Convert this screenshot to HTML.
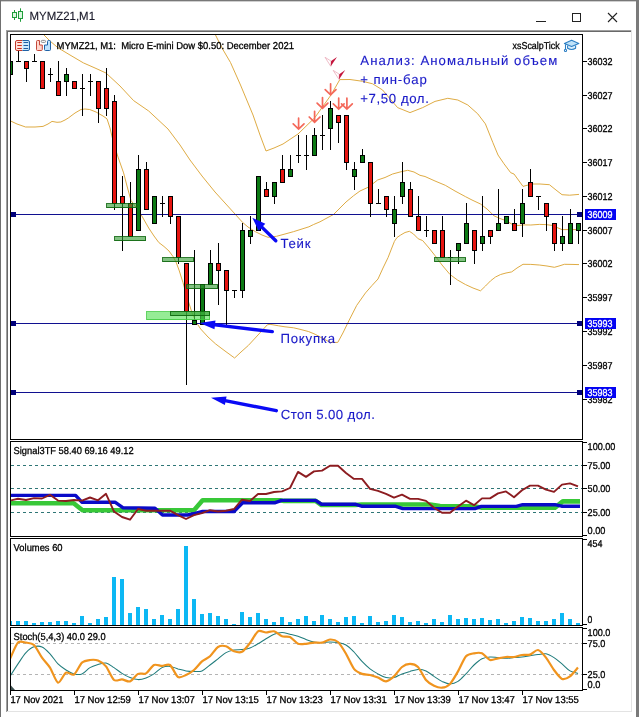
<!DOCTYPE html>
<html lang="ru"><head><meta charset="utf-8"><title>MYMZ21,M1</title>
<style>html,body{margin:0;padding:0;background:#fff;overflow:hidden}body{width:639px;height:717px}svg text{white-space:pre}</style></head>
<body>
<svg width="639" height="717" viewBox="0 0 639 717" font-family='"Liberation Sans", sans-serif' style="display:block">
<defs><clipPath id="cm"><rect x="11" y="35" width="571" height="404"/></clipPath><clipPath id="c1"><rect x="11" y="442" width="571" height="94"/></clipPath><clipPath id="c2"><rect x="11" y="539" width="571" height="86"/></clipPath><clipPath id="c3"><rect x="11" y="628" width="571" height="62"/></clipPath></defs>
<rect x="0" y="0" width="639" height="717" fill="#fff" />
<g shape-rendering="crispEdges">
<rect x="0" y="0" width="639" height="1" fill="#787878" />
<rect x="0" y="1" width="639" height="1" fill="#cfcfcf" />
<rect x="0" y="0" width="1" height="717" fill="#707070" />
<rect x="636" y="0" width="3" height="717" fill="#7a7a7a" />
<rect x="6" y="30" width="626" height="1" fill="#a0a0a0" />
<rect x="7" y="31" width="625" height="1" fill="#696969" />
<rect x="6" y="30" width="1" height="682" fill="#a0a0a0" />
<rect x="7" y="31" width="1" height="681" fill="#696969" />
<rect x="631" y="30" width="1" height="682" fill="#e3e3e3" />
<rect x="7" y="711" width="625" height="1" fill="#e3e3e3" />
</g>
<g fill="#dcf8e0" stroke="#1f9e3a" stroke-width="1"><path d="M14.5,10v10M20.5,8.3v13.5" fill="none"/><rect x="12.5" y="12.5" width="4" height="5"/><rect x="18.5" y="11.5" width="4" height="7"/></g>
<text x="29.5" y="20" font-size="12" fill="#1a1a2a" textLength="65.5" lengthAdjust="spacingAndGlyphs" stroke="#1a1a2a" stroke-width="0.15" text-rendering="geometricPrecision" >MYMZ21,M1</text>
<g stroke="#222" stroke-width="1" fill="none" shape-rendering="crispEdges"><path d="M536,21.5h10"/><rect x="572.5" y="13.5" width="8" height="8"/></g>
<path d="M608,13l9,9M617,13l-9,9" stroke="#222" stroke-width="1.1" fill="none"/>
<g shape-rendering="crispEdges" fill="#000">
<rect x="10" y="34" width="573" height="1" fill="#000" />
<rect x="10" y="34" width="1" height="657" fill="#000" />
<rect x="582" y="34" width="1" height="657" fill="#000" />
<rect x="10" y="439" width="573" height="1" fill="#000" />
<rect x="10" y="441" width="573" height="1" fill="#000" />
<rect x="10" y="536" width="573" height="1" fill="#000" />
<rect x="10" y="538" width="573" height="1" fill="#000" />
<rect x="10" y="625" width="573" height="1" fill="#000" />
<rect x="10" y="627" width="573" height="1" fill="#000" />
<rect x="10" y="690" width="573" height="1" fill="#000" />
<rect x="583" y="442" width="4" height="1" fill="#000" />
<rect x="583" y="535" width="4" height="1" fill="#000" />
<rect x="583" y="539" width="4" height="1" fill="#000" />
<rect x="583" y="624" width="4" height="1" fill="#000" />
<rect x="583" y="628" width="4" height="1" fill="#000" />
<rect x="583" y="689" width="4" height="1" fill="#000" />
<rect x="10" y="440" width="578" height="1" fill="#fff" />
<rect x="10" y="537" width="578" height="1" fill="#fff" />
<rect x="10" y="626" width="578" height="1" fill="#fff" />
</g>
<g clip-path="url(#cm)">
<polyline points="215,34 222,48 230.5,62.5 240.5,85 253,115 260,135 266,151 274,148 283,144 298,134 314.7,117.8 331,95 339.8,79.6 350,79.5 362.6,81.3 372.6,83.8 382.6,90 390,98.8 397.6,107.6 410,112.6 422.7,107.6 435,101.4 447.8,98.3 457.8,100 467.8,105 477.8,113.9 485.4,123.9 492.9,142.7 498,155 504,163.8 510.7,172.7 514,174 523,186.4 531.8,184 540,184 549.4,184.7 556,190 562,194.7 569.5,195.2 579,194.4" fill="none" stroke="#dca73a" stroke-width="0.95" stroke-linejoin="round"/>
<polyline points="43,34 50,41 58,47.8 70,55 83.4,62.9 95,68 106,73 120,86 133.6,100.6 148.7,111 168,129 180,145 190,160 202,176 215,192 225,203 235,214 242.7,222.5 248,227 255.4,231.7 262,235 268,237.3 276.5,236.3 285,234 293.4,231.7 301,229.3 308.9,226.8 313.4,224.6 320,221.8 326,218.5 333.5,214.5 340,208 346,202 353.6,195.7 360,191 368.7,187 377.6,180 385,177.5 392.6,174 400,172 407.7,170.3 414,172 420,175.3 425,176.5 435,181 445.3,185.3 455,191 465.4,196.6 472,200 480.5,204 487,209 494,215.8 500,218.5 505.6,220.5 511.7,224 518,225.5 524,224.9 530.8,225 539.3,224.4 546,224.6 551.9,225.4 557,227.5 562,229.6 570,229.6 579,229.6" fill="none" stroke="#dca73a" stroke-width="0.95" stroke-linejoin="round"/>
<polyline points="10,120.7 17,124 25.6,127 35,127 43,126.4 48,124 52,121.4 57,122.3 60.8,122 65,120 68.3,118 75,113 81,109.5 85,109 89.7,109.5 96,112 103,116 107,118.8 110,128 113.5,142.7 118,157 123.6,172.9 127,186 131,200.5 135,206 138.7,210.6 143,218 148.7,228 154,236 158.8,242.5 164,246.5 169,251 173,256.5 176,262 179,270 183,282.6 187,297 192,312.8 196,322 200.7,329 208,337 215.7,344 225,351 234.6,358 241,352 248.4,345.4 258,335 267.3,324.8 270,324.3 278.6,325.8 285,326.8 293.6,327.8 300,329.3 308.7,331.6 315.2,334.3 322,338 330.3,342.4 337.8,342.4 342.9,333 349,320.5 356.7,305.4 365.5,292.9 372,285.5 378,279 383,268 388,257.7 391,250 394.4,241.4 397,237.5 400.7,235 405,232.5 409.4,231.3 413.5,234 418.2,238.8 422.7,240.6 429,248 435,255.6 442,265 450,274.5 457.5,280 465.4,284.5 473,288 480.5,290.8 485.5,286 490.6,280.8 495.5,277 500.6,274.5 506,273 511.7,271.9 517,268 523,264.3 530.8,264.4 539.3,265 547,266 554.4,267.3 559,266 564.4,264.3 571,264.4 579,264.6" fill="none" stroke="#dca73a" stroke-width="0.95" stroke-linejoin="round"/>
<g shape-rendering="crispEdges">
<rect x="11" y="214" width="571" height="1" fill="#101090" />
<rect x="11" y="212" width="5" height="5" fill="#00007a" />
<rect x="577" y="212" width="5" height="5" fill="#00007a" />
<rect x="11" y="323" width="571" height="1" fill="#101090" />
<rect x="11" y="321" width="5" height="5" fill="#00007a" />
<rect x="577" y="321" width="5" height="5" fill="#00007a" />
<rect x="11" y="392" width="571" height="1" fill="#101090" />
<rect x="11" y="390" width="5" height="5" fill="#00007a" />
<rect x="577" y="390" width="5" height="5" fill="#00007a" />
<rect x="10" y="61" width="1" height="14" fill="#000" />
<rect x="8" y="61" width="5" height="14" fill="#000" />
<rect x="9" y="62" width="3" height="12" fill="#0c7a14" />
<rect x="18" y="51" width="1" height="11" fill="#000" />
<rect x="16" y="61" width="5" height="1" fill="#000" />
<rect x="26" y="61" width="1" height="21" fill="#000" />
<rect x="24" y="61" width="5" height="8" fill="#000" />
<rect x="25" y="62" width="3" height="6" fill="#e61410" />
<rect x="34" y="54" width="1" height="8" fill="#000" />
<rect x="32" y="61" width="5" height="1" fill="#000" />
<rect x="42" y="61" width="1" height="28" fill="#000" />
<rect x="40" y="61" width="5" height="28" fill="#000" />
<rect x="41" y="62" width="3" height="26" fill="#e61410" />
<rect x="50" y="68" width="1" height="14" fill="#000" />
<rect x="48" y="74" width="5" height="1" fill="#000" />
<rect x="58" y="61" width="1" height="35" fill="#000" />
<rect x="56" y="81" width="5" height="15" fill="#000" />
<rect x="57" y="82" width="3" height="13" fill="#e61410" />
<rect x="66" y="68" width="1" height="28" fill="#000" />
<rect x="64" y="74" width="5" height="8" fill="#000" />
<rect x="65" y="75" width="3" height="6" fill="#0c7a14" />
<rect x="74" y="81" width="1" height="8" fill="#000" />
<rect x="72" y="81" width="5" height="8" fill="#000" />
<rect x="73" y="82" width="3" height="6" fill="#e61410" />
<rect x="82" y="74" width="1" height="42" fill="#000" />
<rect x="80" y="88" width="5" height="1" fill="#000" />
<rect x="90" y="74" width="1" height="22" fill="#000" />
<rect x="88" y="81" width="5" height="1" fill="#000" />
<rect x="98" y="81" width="1" height="42" fill="#000" />
<rect x="96" y="81" width="5" height="28" fill="#000" />
<rect x="97" y="82" width="3" height="26" fill="#e61410" />
<rect x="106" y="68" width="1" height="48" fill="#000" />
<rect x="104" y="88" width="5" height="21" fill="#000" />
<rect x="105" y="89" width="3" height="19" fill="#e61410" />
<rect x="114" y="95" width="1" height="115" fill="#000" />
<rect x="112" y="101" width="5" height="103" fill="#000" />
<rect x="113" y="102" width="3" height="101" fill="#e61410" />
<rect x="122" y="176" width="1" height="75" fill="#000" />
<rect x="120" y="196" width="5" height="8" fill="#000" />
<rect x="121" y="197" width="3" height="6" fill="#e61410" />
<rect x="130" y="182" width="1" height="55" fill="#000" />
<rect x="128" y="203" width="5" height="34" fill="#000" />
<rect x="129" y="204" width="3" height="32" fill="#e61410" />
<rect x="138" y="155" width="1" height="76" fill="#000" />
<rect x="136" y="169" width="5" height="62" fill="#000" />
<rect x="137" y="170" width="3" height="60" fill="#0c7a14" />
<rect x="146" y="162" width="1" height="48" fill="#000" />
<rect x="144" y="169" width="5" height="41" fill="#000" />
<rect x="145" y="170" width="3" height="39" fill="#e61410" />
<rect x="154" y="196" width="1" height="28" fill="#000" />
<rect x="152" y="196" width="5" height="28" fill="#000" />
<rect x="153" y="197" width="3" height="26" fill="#0c7a14" />
<rect x="162" y="196" width="1" height="21" fill="#000" />
<rect x="160" y="203" width="5" height="1" fill="#000" />
<rect x="170" y="196" width="1" height="28" fill="#000" />
<rect x="168" y="196" width="5" height="21" fill="#000" />
<rect x="169" y="197" width="3" height="19" fill="#e61410" />
<rect x="178" y="216" width="1" height="48" fill="#000" />
<rect x="176" y="216" width="5" height="42" fill="#000" />
<rect x="177" y="217" width="3" height="40" fill="#e61410" />
<rect x="186" y="263" width="1" height="122" fill="#000" />
<rect x="184" y="263" width="5" height="49" fill="#000" />
<rect x="185" y="264" width="3" height="47" fill="#e61410" />
<rect x="194" y="250" width="1" height="75" fill="#000" />
<rect x="192" y="320" width="5" height="5" fill="#000" />
<rect x="193" y="321" width="3" height="3" fill="#0c7a14" />
<rect x="202" y="284" width="1" height="41" fill="#000" />
<rect x="200" y="284" width="5" height="41" fill="#000" />
<rect x="201" y="285" width="3" height="39" fill="#0c7a14" />
<rect x="210" y="250" width="1" height="35" fill="#000" />
<rect x="208" y="263" width="5" height="22" fill="#000" />
<rect x="209" y="264" width="3" height="20" fill="#0c7a14" />
<rect x="218" y="243" width="1" height="62" fill="#000" />
<rect x="216" y="263" width="5" height="8" fill="#000" />
<rect x="217" y="264" width="3" height="6" fill="#e61410" />
<rect x="226" y="270" width="1" height="55" fill="#000" />
<rect x="224" y="270" width="5" height="21" fill="#000" />
<rect x="225" y="271" width="3" height="19" fill="#e61410" />
<rect x="234" y="290" width="1" height="8" fill="#000" />
<rect x="232" y="290" width="5" height="1" fill="#000" />
<rect x="242" y="223" width="1" height="75" fill="#000" />
<rect x="240" y="230" width="5" height="61" fill="#000" />
<rect x="241" y="231" width="3" height="59" fill="#0c7a14" />
<rect x="250" y="216" width="1" height="28" fill="#000" />
<rect x="248" y="230" width="5" height="7" fill="#000" />
<rect x="249" y="231" width="3" height="5" fill="#0c7a14" />
<rect x="258" y="176" width="1" height="55" fill="#000" />
<rect x="256" y="176" width="5" height="55" fill="#000" />
<rect x="257" y="177" width="3" height="53" fill="#0c7a14" />
<rect x="266" y="182" width="1" height="15" fill="#000" />
<rect x="264" y="189" width="5" height="8" fill="#000" />
<rect x="265" y="190" width="3" height="6" fill="#e61410" />
<rect x="274" y="182" width="1" height="22" fill="#000" />
<rect x="272" y="182" width="5" height="15" fill="#000" />
<rect x="273" y="183" width="3" height="13" fill="#0c7a14" />
<rect x="282" y="155" width="1" height="28" fill="#000" />
<rect x="280" y="169" width="5" height="14" fill="#000" />
<rect x="281" y="170" width="3" height="12" fill="#e61410" />
<rect x="290" y="155" width="1" height="22" fill="#000" />
<rect x="288" y="169" width="5" height="8" fill="#000" />
<rect x="289" y="170" width="3" height="6" fill="#0c7a14" />
<rect x="298" y="135" width="1" height="28" fill="#000" />
<rect x="296" y="155" width="5" height="1" fill="#000" />
<rect x="306" y="135" width="1" height="35" fill="#000" />
<rect x="304" y="155" width="5" height="1" fill="#000" />
<rect x="314" y="128" width="1" height="28" fill="#000" />
<rect x="312" y="135" width="5" height="21" fill="#000" />
<rect x="313" y="136" width="3" height="19" fill="#0c7a14" />
<rect x="322" y="115" width="1" height="35" fill="#000" />
<rect x="320" y="135" width="5" height="1" fill="#000" />
<rect x="330" y="101" width="1" height="49" fill="#000" />
<rect x="328" y="108" width="5" height="21" fill="#000" />
<rect x="329" y="109" width="3" height="19" fill="#0c7a14" />
<rect x="338" y="115" width="1" height="28" fill="#000" />
<rect x="336" y="115" width="5" height="8" fill="#000" />
<rect x="337" y="116" width="3" height="6" fill="#e61410" />
<rect x="346" y="115" width="1" height="55" fill="#000" />
<rect x="344" y="115" width="5" height="48" fill="#000" />
<rect x="345" y="116" width="3" height="46" fill="#e61410" />
<rect x="354" y="162" width="1" height="28" fill="#000" />
<rect x="352" y="169" width="5" height="8" fill="#000" />
<rect x="353" y="170" width="3" height="6" fill="#0c7a14" />
<rect x="362" y="149" width="1" height="14" fill="#000" />
<rect x="360" y="155" width="5" height="8" fill="#000" />
<rect x="361" y="156" width="3" height="6" fill="#0c7a14" />
<rect x="370" y="162" width="1" height="55" fill="#000" />
<rect x="368" y="162" width="5" height="42" fill="#000" />
<rect x="369" y="163" width="3" height="40" fill="#e61410" />
<rect x="378" y="189" width="1" height="15" fill="#000" />
<rect x="376" y="203" width="5" height="1" fill="#000" />
<rect x="386" y="196" width="1" height="21" fill="#000" />
<rect x="384" y="196" width="5" height="14" fill="#000" />
<rect x="385" y="197" width="3" height="12" fill="#e61410" />
<rect x="394" y="196" width="1" height="41" fill="#000" />
<rect x="392" y="209" width="5" height="15" fill="#000" />
<rect x="393" y="210" width="3" height="13" fill="#0c7a14" />
<rect x="402" y="162" width="1" height="42" fill="#000" />
<rect x="400" y="182" width="5" height="15" fill="#000" />
<rect x="401" y="183" width="3" height="13" fill="#0c7a14" />
<rect x="410" y="182" width="1" height="35" fill="#000" />
<rect x="408" y="189" width="5" height="28" fill="#000" />
<rect x="409" y="190" width="3" height="26" fill="#e61410" />
<rect x="418" y="196" width="1" height="35" fill="#000" />
<rect x="416" y="216" width="5" height="15" fill="#000" />
<rect x="417" y="217" width="3" height="13" fill="#e61410" />
<rect x="426" y="216" width="1" height="21" fill="#000" />
<rect x="424" y="230" width="5" height="1" fill="#000" />
<rect x="434" y="230" width="1" height="14" fill="#000" />
<rect x="432" y="230" width="5" height="14" fill="#000" />
<rect x="433" y="231" width="3" height="12" fill="#e61410" />
<rect x="442" y="216" width="1" height="42" fill="#000" />
<rect x="440" y="230" width="5" height="28" fill="#000" />
<rect x="441" y="231" width="3" height="26" fill="#e61410" />
<rect x="450" y="250" width="1" height="35" fill="#000" />
<rect x="448" y="257" width="5" height="1" fill="#000" />
<rect x="458" y="243" width="1" height="21" fill="#000" />
<rect x="456" y="243" width="5" height="8" fill="#000" />
<rect x="457" y="244" width="3" height="6" fill="#0c7a14" />
<rect x="466" y="203" width="1" height="41" fill="#000" />
<rect x="464" y="223" width="5" height="21" fill="#000" />
<rect x="465" y="224" width="3" height="19" fill="#0c7a14" />
<rect x="474" y="230" width="1" height="34" fill="#000" />
<rect x="472" y="230" width="5" height="21" fill="#000" />
<rect x="473" y="231" width="3" height="19" fill="#e61410" />
<rect x="482" y="196" width="1" height="55" fill="#000" />
<rect x="480" y="236" width="5" height="8" fill="#000" />
<rect x="481" y="237" width="3" height="6" fill="#0c7a14" />
<rect x="490" y="230" width="1" height="14" fill="#000" />
<rect x="488" y="230" width="5" height="7" fill="#000" />
<rect x="489" y="231" width="3" height="5" fill="#e61410" />
<rect x="498" y="189" width="1" height="42" fill="#000" />
<rect x="496" y="223" width="5" height="8" fill="#000" />
<rect x="497" y="224" width="3" height="6" fill="#0c7a14" />
<rect x="506" y="216" width="1" height="8" fill="#000" />
<rect x="504" y="216" width="5" height="8" fill="#000" />
<rect x="505" y="217" width="3" height="6" fill="#0c7a14" />
<rect x="514" y="209" width="1" height="22" fill="#000" />
<rect x="512" y="223" width="5" height="8" fill="#000" />
<rect x="513" y="224" width="3" height="6" fill="#e61410" />
<rect x="522" y="189" width="1" height="48" fill="#000" />
<rect x="520" y="203" width="5" height="21" fill="#000" />
<rect x="521" y="204" width="3" height="19" fill="#0c7a14" />
<rect x="530" y="169" width="1" height="28" fill="#000" />
<rect x="528" y="182" width="5" height="15" fill="#000" />
<rect x="529" y="183" width="3" height="13" fill="#e61410" />
<rect x="538" y="196" width="1" height="14" fill="#000" />
<rect x="536" y="196" width="5" height="1" fill="#000" />
<rect x="546" y="203" width="1" height="28" fill="#000" />
<rect x="544" y="203" width="5" height="14" fill="#000" />
<rect x="545" y="204" width="3" height="12" fill="#e61410" />
<rect x="554" y="223" width="1" height="28" fill="#000" />
<rect x="552" y="223" width="5" height="21" fill="#000" />
<rect x="553" y="224" width="3" height="19" fill="#e61410" />
<rect x="562" y="216" width="1" height="35" fill="#000" />
<rect x="560" y="236" width="5" height="8" fill="#000" />
<rect x="561" y="237" width="3" height="6" fill="#0c7a14" />
<rect x="570" y="209" width="1" height="35" fill="#000" />
<rect x="568" y="223" width="5" height="21" fill="#000" />
<rect x="569" y="224" width="3" height="19" fill="#0c7a14" />
<rect x="578" y="223" width="1" height="21" fill="#000" />
<rect x="576" y="223" width="5" height="8" fill="#000" />
<rect x="577" y="224" width="3" height="6" fill="#0c7a14" />
</g>
<rect x="146.5" y="311.5" width="63" height="8" fill="#55e055" fill-opacity="0.62" stroke="#3cc83c" stroke-opacity="0.8" stroke-width="1" shape-rendering="crispEdges"/>
<rect x="106.5" y="203.5" width="30" height="4" fill="#2e9a2e" fill-opacity="0.6" stroke="#0a640a" stroke-opacity="0.85" stroke-width="1" shape-rendering="crispEdges"/>
<rect x="114.5" y="236.5" width="31" height="4" fill="#2e9a2e" fill-opacity="0.6" stroke="#0a640a" stroke-opacity="0.85" stroke-width="1" shape-rendering="crispEdges"/>
<rect x="162.5" y="257.5" width="31" height="4" fill="#2e9a2e" fill-opacity="0.6" stroke="#0a640a" stroke-opacity="0.85" stroke-width="1" shape-rendering="crispEdges"/>
<rect x="186.5" y="284.5" width="31" height="4" fill="#2e9a2e" fill-opacity="0.6" stroke="#0a640a" stroke-opacity="0.85" stroke-width="1" shape-rendering="crispEdges"/>
<rect x="170.5" y="311.5" width="39" height="4" fill="#2e9a2e" fill-opacity="0.6" stroke="#0a640a" stroke-opacity="0.85" stroke-width="1" shape-rendering="crispEdges"/>
<rect x="434.5" y="257.5" width="31" height="4" fill="#2e9a2e" fill-opacity="0.6" stroke="#0a640a" stroke-opacity="0.85" stroke-width="1" shape-rendering="crispEdges"/>
</g>
<path d="M298.6,118.2V128.7M293.2,123.9L298.6,129.1L304,123.9" fill="none" stroke="#f4685a" stroke-width="1.7" stroke-linecap="round" stroke-linejoin="miter"/>
<path d="M314.6,111.3V121.8M309.2,117L314.6,122.2L320,117" fill="none" stroke="#f4685a" stroke-width="1.7" stroke-linecap="round" stroke-linejoin="miter"/>
<path d="M322.5,97.6V108M317.1,103.2L322.5,108.4L327.9,103.2" fill="none" stroke="#f4685a" stroke-width="1.7" stroke-linecap="round" stroke-linejoin="miter"/>
<path d="M330.6,83.8V94.5M325.2,89.7L330.6,94.9L336,89.7" fill="none" stroke="#f4685a" stroke-width="1.7" stroke-linecap="round" stroke-linejoin="miter"/>
<path d="M338.7,98.2V108.6M333.3,103.8L338.7,109L344.1,103.8" fill="none" stroke="#f4685a" stroke-width="1.7" stroke-linecap="round" stroke-linejoin="miter"/>
<path d="M346.9,98.2V108.6M341.5,103.8L346.9,109L352.3,103.8" fill="none" stroke="#f4685a" stroke-width="1.7" stroke-linecap="round" stroke-linejoin="miter"/>
<path d="M325,57.3L331.1,61.1L330.8,66.3Z" fill="#fff" stroke="#e8a0b0" stroke-width="0.7"/>
<path d="M337,56.9L331.1,61.1L330.8,66.3Z" fill="#c4143c"/>
<path d="M333.2,70.4L339.3,74.2L339,79.4Z" fill="#fff" stroke="#e8a0b0" stroke-width="0.7"/>
<path d="M345.2,70L339.3,74.2L339,79.4Z" fill="#c4143c"/>
<line x1="275.8" y1="240.8" x2="260.519" y2="225.844" stroke="#0a0af5" stroke-width="3.4" stroke-linecap="round"/>
<polygon points="252.3,217.8 265.305,223.812 258.591,230.673" fill="#0a0af5"/>
<line x1="272.3" y1="331.6" x2="213.009" y2="324.668" stroke="#0a0af5" stroke-width="3.4" stroke-linecap="round"/>
<polygon points="199.6,323.1 215.506,320.53 214.484,329.27" fill="#0a0af5"/>
<line x1="276.3" y1="410.7" x2="223.754" y2="400.319" stroke="#0a0af5" stroke-width="3.4" stroke-linecap="round"/>
<polygon points="211,397.8 226.568,396.39 224.863,405.024" fill="#0a0af5"/>
<text x="360.3" y="65" font-size="13.2" fill="#1a1ac8" textLength="197" lengthAdjust="spacing" stroke="#1a1ac8" stroke-width="0.12" text-rendering="geometricPrecision" >Анализ: Аномальный объем</text>
<text x="360.3" y="84" font-size="13.2" fill="#1a1ac8" textLength="66.5" lengthAdjust="spacing" stroke="#1a1ac8" stroke-width="0.12" text-rendering="geometricPrecision" >+ пин-бар</text>
<text x="360.3" y="103" font-size="13.2" fill="#1a1ac8" textLength="68.5" lengthAdjust="spacing" stroke="#1a1ac8" stroke-width="0.12" text-rendering="geometricPrecision" >+7,50 дол.</text>
<text x="280.5" y="247.6" font-size="13.2" fill="#1a1ac8" textLength="30" lengthAdjust="spacing" stroke="#1a1ac8" stroke-width="0.12" text-rendering="geometricPrecision" >Тейк</text>
<text x="280.5" y="343" font-size="13.2" fill="#1a1ac8" textLength="54.5" lengthAdjust="spacing" stroke="#1a1ac8" stroke-width="0.12" text-rendering="geometricPrecision" >Покупка</text>
<text x="280.8" y="419.1" font-size="13.2" fill="#1a1ac8" textLength="94" lengthAdjust="spacing" stroke="#1a1ac8" stroke-width="0.12" text-rendering="geometricPrecision" >Стоп 5.00 дол.</text>
<g stroke-width="1" fill="none"><path d="M22.5,40.5H17a1.5,1.5 0 0 0 -1.5,1.5v7a1.5,1.5 0 0 0 1.5,1.5h5.5" stroke="#c23a2c" fill="#ffe1db"/><path d="M22.5,40.5H28a1.5,1.5 0 0 1 1.5,1.5v7a1.5,1.5 0 0 1 -1.5,1.5h-5.5" stroke="#1f62a6" fill="#cdeaff"/><path d="M17.3,42.5h4.5M17.3,45.5h4.5M17.3,48.5h4.5" stroke="#c8301f" stroke-width="1.1"/><path d="M23.5,42.5h4.7M23.5,45.5h4.7M23.5,48.5h4.7" stroke="#1f5fa2" stroke-width="1.1"/><path d="M36.5,41.5a1,1 0 0 1 1,-1h2v4.5h2.8v4.5a1,1 0 0 1 -1,1h-3.8a1,1 0 0 1 -1,-1z" stroke="#c4483a" fill="#ffd6cd"/><path d="M44.5,45h3v-3.5a1,1 0 0 1 1,-1h1a1,1 0 0 1 1,1v8a1,1 0 0 1 -1,1h-4a1,1 0 0 1 -1,-1z" stroke="#1f62a6" fill="#bfe3fd"/><rect x="41.2" y="40.4" width="4.4" height="2" rx="1" stroke="#8c8c8c" fill="#fff"/></g>
<text x="56.6" y="49" font-size="10" fill="#000" textLength="237.3" lengthAdjust="spacingAndGlyphs" stroke="#000" stroke-width="0.3" text-rendering="geometricPrecision" xml:space="preserve">MYMZ21, M1:  Micro E-mini Dow $0.50: December 2021</text>
<text x="512.6" y="49" font-size="10" fill="#000" textLength="47" lengthAdjust="spacingAndGlyphs" stroke="#000" stroke-width="0.3" text-rendering="geometricPrecision" >xsScalpTick</text>
<g stroke="#2d7fc4" stroke-width="1.1" stroke-linejoin="round"><path d="M567.6,45.4v2.9q4,2.4 8,0v-2.9" fill="#d9eefc"/><path d="M564.4,43.5l7.2,-3.3l7.2,3.3l-7.2,2.9z" fill="#bfe2f9"/><path d="M565.5,44.3v5" fill="none"/><circle cx="565.5" cy="50.4" r="1.1" fill="#eaf5fd"/></g>
<g shape-rendering="crispEdges">
<rect x="583" y="61" width="4" height="1" fill="#000" />
<rect x="583" y="95" width="4" height="1" fill="#000" />
<rect x="583" y="128" width="4" height="1" fill="#000" />
<rect x="583" y="162" width="4" height="1" fill="#000" />
<rect x="583" y="196" width="4" height="1" fill="#000" />
<rect x="583" y="230" width="4" height="1" fill="#000" />
<rect x="583" y="263" width="4" height="1" fill="#000" />
<rect x="583" y="297" width="4" height="1" fill="#000" />
<rect x="583" y="331" width="4" height="1" fill="#000" />
<rect x="583" y="365" width="4" height="1" fill="#000" />
<rect x="583" y="399" width="4" height="1" fill="#000" />
</g>
<text x="587.6" y="65" font-size="10" fill="#000" textLength="25" lengthAdjust="spacingAndGlyphs" stroke="#000" stroke-width="0.3" text-rendering="geometricPrecision" >36032</text>
<text x="587.6" y="99" font-size="10" fill="#000" textLength="25" lengthAdjust="spacingAndGlyphs" stroke="#000" stroke-width="0.3" text-rendering="geometricPrecision" >36027</text>
<text x="587.6" y="132" font-size="10" fill="#000" textLength="25" lengthAdjust="spacingAndGlyphs" stroke="#000" stroke-width="0.3" text-rendering="geometricPrecision" >36022</text>
<text x="587.6" y="166" font-size="10" fill="#000" textLength="25" lengthAdjust="spacingAndGlyphs" stroke="#000" stroke-width="0.3" text-rendering="geometricPrecision" >36017</text>
<text x="587.6" y="200" font-size="10" fill="#000" textLength="25" lengthAdjust="spacingAndGlyphs" stroke="#000" stroke-width="0.3" text-rendering="geometricPrecision" >36012</text>
<text x="587.6" y="234" font-size="10" fill="#000" textLength="25" lengthAdjust="spacingAndGlyphs" stroke="#000" stroke-width="0.3" text-rendering="geometricPrecision" >36007</text>
<text x="587.6" y="267" font-size="10" fill="#000" textLength="25" lengthAdjust="spacingAndGlyphs" stroke="#000" stroke-width="0.3" text-rendering="geometricPrecision" >36002</text>
<text x="587.6" y="301" font-size="10" fill="#000" textLength="25" lengthAdjust="spacingAndGlyphs" stroke="#000" stroke-width="0.3" text-rendering="geometricPrecision" >35997</text>
<text x="587.6" y="335" font-size="10" fill="#000" textLength="25" lengthAdjust="spacingAndGlyphs" stroke="#000" stroke-width="0.3" text-rendering="geometricPrecision" >35992</text>
<text x="587.6" y="369" font-size="10" fill="#000" textLength="25" lengthAdjust="spacingAndGlyphs" stroke="#000" stroke-width="0.3" text-rendering="geometricPrecision" >35987</text>
<text x="587.6" y="403" font-size="10" fill="#000" textLength="25" lengthAdjust="spacingAndGlyphs" stroke="#000" stroke-width="0.3" text-rendering="geometricPrecision" >35982</text>
<g shape-rendering="crispEdges">
<rect x="585" y="209" width="31" height="11" fill="#0404f2" />
<rect x="585" y="318" width="31" height="11" fill="#0404f2" />
<rect x="585" y="387" width="31" height="11" fill="#0404f2" />
</g>
<text x="587.6" y="218" font-size="10" fill="#fff" textLength="25" lengthAdjust="spacingAndGlyphs" stroke="#fff" stroke-width="0.3" text-rendering="geometricPrecision" >36009</text>
<text x="587.6" y="327" font-size="10" fill="#fff" textLength="25" lengthAdjust="spacingAndGlyphs" stroke="#fff" stroke-width="0.3" text-rendering="geometricPrecision" >35993</text>
<text x="587.6" y="396" font-size="10" fill="#fff" textLength="25" lengthAdjust="spacingAndGlyphs" stroke="#fff" stroke-width="0.3" text-rendering="geometricPrecision" >35983</text>
<g clip-path="url(#c1)">
<line x1="11" y1="465.5" x2="582" y2="465.5" stroke="#2f7676" stroke-width="1" stroke-dasharray="3,3" shape-rendering="crispEdges"/>
<line x1="11" y1="488.5" x2="582" y2="488.5" stroke="#2f7676" stroke-width="1" stroke-dasharray="3,3" shape-rendering="crispEdges"/>
<line x1="11" y1="512.5" x2="582" y2="512.5" stroke="#2f7676" stroke-width="1" stroke-dasharray="3,3" shape-rendering="crispEdges"/>
<polyline points="10,503.3 73.7,503.3 82.5,510.3 194,510.2 202.6,500.2 280,500.2 284,500.9 315.6,500.9 321.5,505 355,505 361.5,504.5 430,504.5 440,506 475,506.4 481,507.6 555,507.6 562.8,501.4 580,501.4" fill="none" stroke="#38c838" stroke-width="4.6" stroke-linejoin="round"/>
<polyline points="10,495.4 75.6,495.4 81.8,502.2 115,502.2 122.8,507.7 155,508.2 162.5,515 187.6,515 195,513.5 202.6,511.5 234,511.5 242.7,502.7 275.3,502.7 281.6,500.4 315.6,500.4 321.5,504.2 355,504.2 361.5,506.2 395,506.2 402.8,508.6 475,508.6 481.3,506.4 516.4,506.4 522.7,504.7 555,504.7 561.5,506.2 580,506.2" fill="none" stroke="#0a0ac8" stroke-width="3.4" stroke-linejoin="round"/>
<polyline points="10,500.6 18,498.8 26,500 34,498.1 42,498.5 50,494.8 58,500.6 66,501 74,500 82,500.6 90,497.5 98,500.3 106,493.8 114,511.5 122,517 130,519.7 138,509 146,510.7 154,510.7 162,510.7 170,510.7 178,515.2 186,519 194,515.2 202,513.2 210,510.2 218,511.5 226,510.7 234,509 242,499.7 250,501 258,494 266,494 274,492 282,491.4 290,488 298,471.9 306,476.9 314,471.4 322,470.6 330,465.8 338,465.8 346,473 354,478.9 362,478.9 370,488.9 378,490.9 386,493.9 394,497.7 402,494.7 410,498.9 418,498.9 426,500.9 434,507.7 442,512.7 450,512.7 458,506.4 466,500.7 474,505.2 482,498.4 490,498.4 498,493.4 506,491.4 514,497.2 522,490.2 530,485.6 538,485.6 546,489.6 554,491.9 562,484.6 570,483.4 578,486.4" fill="none" stroke="#8c1c20" stroke-width="1.9" stroke-linejoin="round"/>
</g>
<text x="13.6" y="454" font-size="10" fill="#000" textLength="120" lengthAdjust="spacingAndGlyphs" stroke="#000" stroke-width="0.3" text-rendering="geometricPrecision" >Signal3TF 58.40 69.16 49.12</text>
<g shape-rendering="crispEdges">
<rect x="583" y="465" width="4" height="1" fill="#000" />
<rect x="583" y="488" width="4" height="1" fill="#000" />
<rect x="583" y="512" width="4" height="1" fill="#000" />
</g>
<text x="587.6" y="450" font-size="10" fill="#000" textLength="27.8" lengthAdjust="spacingAndGlyphs" stroke="#000" stroke-width="0.3" text-rendering="geometricPrecision" >100.00</text>
<text x="587.6" y="469" font-size="10" fill="#000" textLength="22.8" lengthAdjust="spacingAndGlyphs" stroke="#000" stroke-width="0.3" text-rendering="geometricPrecision" >75.00</text>
<text x="587.6" y="492" font-size="10" fill="#000" textLength="22.8" lengthAdjust="spacingAndGlyphs" stroke="#000" stroke-width="0.3" text-rendering="geometricPrecision" >50.00</text>
<text x="587.6" y="516" font-size="10" fill="#000" textLength="22.8" lengthAdjust="spacingAndGlyphs" stroke="#000" stroke-width="0.3" text-rendering="geometricPrecision" >25.00</text>
<text x="587.6" y="534" font-size="10" fill="#000" textLength="17.8" lengthAdjust="spacingAndGlyphs" stroke="#000" stroke-width="0.3" text-rendering="geometricPrecision" >0.00</text>
<g clip-path="url(#c2)" shape-rendering="crispEdges">
<rect x="8" y="621" width="4" height="4" fill="#0db8f4" />
<rect x="16" y="621" width="4" height="4" fill="#0db8f4" />
<rect x="24" y="621" width="4" height="4" fill="#0db8f4" />
<rect x="32" y="623" width="4" height="2" fill="#0db8f4" />
<rect x="40" y="622" width="4" height="3" fill="#0db8f4" />
<rect x="48" y="622" width="4" height="3" fill="#0db8f4" />
<rect x="56" y="621" width="4" height="4" fill="#0db8f4" />
<rect x="64" y="621" width="4" height="4" fill="#0db8f4" />
<rect x="72" y="623" width="4" height="2" fill="#0db8f4" />
<rect x="80" y="616" width="4" height="9" fill="#0db8f4" />
<rect x="88" y="623" width="4" height="2" fill="#0db8f4" />
<rect x="96" y="619" width="4" height="6" fill="#0db8f4" />
<rect x="104" y="617" width="4" height="8" fill="#0db8f4" />
<rect x="112" y="577" width="4" height="48" fill="#0db8f4" />
<rect x="120" y="579" width="4" height="46" fill="#0db8f4" />
<rect x="128" y="613" width="4" height="12" fill="#0db8f4" />
<rect x="136" y="607" width="4" height="18" fill="#0db8f4" />
<rect x="144" y="609" width="4" height="16" fill="#0db8f4" />
<rect x="152" y="619" width="4" height="6" fill="#0db8f4" />
<rect x="160" y="615" width="4" height="10" fill="#0db8f4" />
<rect x="168" y="619" width="4" height="6" fill="#0db8f4" />
<rect x="176" y="609" width="4" height="16" fill="#0db8f4" />
<rect x="184" y="546" width="4" height="79" fill="#0db8f4" />
<rect x="192" y="599" width="4" height="26" fill="#0db8f4" />
<rect x="200" y="614" width="4" height="11" fill="#0db8f4" />
<rect x="208" y="613" width="4" height="12" fill="#0db8f4" />
<rect x="216" y="616" width="4" height="9" fill="#0db8f4" />
<rect x="224" y="619" width="4" height="6" fill="#0db8f4" />
<rect x="232" y="624" width="4" height="1" fill="#0db8f4" />
<rect x="240" y="612" width="4" height="13" fill="#0db8f4" />
<rect x="248" y="617" width="4" height="8" fill="#0db8f4" />
<rect x="256" y="613" width="4" height="12" fill="#0db8f4" />
<rect x="264" y="619" width="4" height="6" fill="#0db8f4" />
<rect x="272" y="622" width="4" height="3" fill="#0db8f4" />
<rect x="280" y="617" width="4" height="8" fill="#0db8f4" />
<rect x="288" y="622" width="4" height="3" fill="#0db8f4" />
<rect x="296" y="619" width="4" height="6" fill="#0db8f4" />
<rect x="304" y="616" width="4" height="9" fill="#0db8f4" />
<rect x="312" y="621" width="4" height="4" fill="#0db8f4" />
<rect x="320" y="615" width="4" height="10" fill="#0db8f4" />
<rect x="328" y="619" width="4" height="6" fill="#0db8f4" />
<rect x="336" y="622" width="4" height="3" fill="#0db8f4" />
<rect x="344" y="617" width="4" height="8" fill="#0db8f4" />
<rect x="352" y="616" width="4" height="9" fill="#0db8f4" />
<rect x="360" y="623" width="4" height="2" fill="#0db8f4" />
<rect x="368" y="616" width="4" height="9" fill="#0db8f4" />
<rect x="376" y="622" width="4" height="3" fill="#0db8f4" />
<rect x="384" y="621" width="4" height="4" fill="#0db8f4" />
<rect x="392" y="615" width="4" height="10" fill="#0db8f4" />
<rect x="400" y="617" width="4" height="8" fill="#0db8f4" />
<rect x="408" y="622" width="4" height="3" fill="#0db8f4" />
<rect x="416" y="621" width="4" height="4" fill="#0db8f4" />
<rect x="424" y="623" width="4" height="2" fill="#0db8f4" />
<rect x="432" y="619" width="4" height="6" fill="#0db8f4" />
<rect x="440" y="622" width="4" height="3" fill="#0db8f4" />
<rect x="448" y="615" width="4" height="10" fill="#0db8f4" />
<rect x="456" y="619" width="4" height="6" fill="#0db8f4" />
<rect x="464" y="618" width="4" height="7" fill="#0db8f4" />
<rect x="472" y="619" width="4" height="6" fill="#0db8f4" />
<rect x="480" y="618" width="4" height="7" fill="#0db8f4" />
<rect x="488" y="620" width="4" height="5" fill="#0db8f4" />
<rect x="496" y="619" width="4" height="6" fill="#0db8f4" />
<rect x="504" y="623" width="4" height="2" fill="#0db8f4" />
<rect x="512" y="621" width="4" height="4" fill="#0db8f4" />
<rect x="520" y="617" width="4" height="8" fill="#0db8f4" />
<rect x="528" y="618" width="4" height="7" fill="#0db8f4" />
<rect x="536" y="621" width="4" height="4" fill="#0db8f4" />
<rect x="544" y="621" width="4" height="4" fill="#0db8f4" />
<rect x="552" y="619" width="4" height="6" fill="#0db8f4" />
<rect x="560" y="613" width="4" height="12" fill="#0db8f4" />
<rect x="568" y="619" width="4" height="6" fill="#0db8f4" />
<rect x="576" y="623" width="4" height="2" fill="#0db8f4" />
</g>
<text x="13.6" y="551" font-size="10" fill="#000" textLength="49" lengthAdjust="spacingAndGlyphs" stroke="#000" stroke-width="0.3" text-rendering="geometricPrecision" >Volumes 60</text>
<text x="587.6" y="547" font-size="10" fill="#000" textLength="14.8" lengthAdjust="spacingAndGlyphs" stroke="#000" stroke-width="0.3" text-rendering="geometricPrecision" >454</text>
<text x="587.6" y="623" font-size="10" fill="#000" textLength="4.8" lengthAdjust="spacingAndGlyphs" stroke="#000" stroke-width="0.3" text-rendering="geometricPrecision" >0</text>
<g clip-path="url(#c3)">
<line x1="11" y1="643.5" x2="582" y2="643.5" stroke="#b4b4b4" stroke-width="1" stroke-dasharray="3,3" shape-rendering="crispEdges"/>
<line x1="11" y1="674.5" x2="582" y2="674.5" stroke="#b4b4b4" stroke-width="1" stroke-dasharray="3,3" shape-rendering="crispEdges"/>
<path d="M10,676.4C11.3,674.3 15.3,667.9 18,663.9C20.7,659.9 23.3,655.5 26,652.6C28.7,649.8 31.3,647.7 34,646.8C36.7,645.9 39.3,645.8 42,647C44.7,648.2 47.3,651.0 50,653.8C52.7,656.6 55.3,661.2 58,663.9C60.7,666.6 63.3,668.3 66,670C68.7,671.7 71.3,673.2 74,673.9C76.7,674.5 79.3,674.9 82,673.9C84.7,672.9 87.3,669.1 90,667.6C92.7,666.1 95.3,665.4 98,664.6C100.7,663.8 103.3,662.5 106,663C108.7,663.5 111.3,665.9 114,667.6C116.7,669.3 119.3,671.7 122,673.4C124.7,675.1 127.3,676.6 130,677.6C132.7,678.6 135.3,679.5 138,679.6C140.7,679.7 143.3,679.0 146,678C148.7,677.0 151.3,675.6 154,673.9C156.7,672.2 159.3,668.9 162,667.6C164.7,666.4 167.3,666.2 170,666.4C172.7,666.6 175.3,668.1 178,668.9C180.7,669.6 183.3,670.5 186,670.9C188.7,671.3 191.3,671.4 194,671.4C196.7,671.4 199.3,672.0 202,670.9C204.7,669.8 207.3,667.0 210,665C212.7,663.0 215.3,660.9 218,658.8C220.7,656.7 223.3,654.1 226,652.6C228.7,651.1 231.3,650.5 234,650C236.7,649.5 239.3,649.9 242,649.6C244.7,649.3 247.3,649.0 250,648C252.7,647.0 255.3,645.3 258,643.8C260.7,642.3 263.3,640.4 266,638.8C268.7,637.2 271.3,635.3 274,634.3C276.7,633.2 279.3,632.5 282,632.5C284.7,632.5 287.3,633.7 290,634.3C292.7,634.9 295.3,635.4 298,636.3C300.7,637.2 303.3,638.5 306,639.5C308.7,640.5 311.3,641.5 314,642C316.7,642.5 319.3,642.6 322,642.6C324.7,642.6 327.3,642.0 330,642C332.7,642.0 335.3,642.1 338,642.6C340.7,643.1 343.3,643.4 346,645C348.7,646.6 351.3,649.3 354,652C356.7,654.7 359.3,658.6 362,661.4C364.7,664.2 367.3,666.8 370,668.9C372.7,671.0 375.3,672.4 378,673.9C380.7,675.4 383.3,677.0 386,677.6C388.7,678.2 391.3,678.2 394,677.6C396.7,677.0 399.3,674.9 402,673.9C404.7,672.9 407.3,672.1 410,671.4C412.7,670.6 415.3,669.5 418,669.4C420.7,669.3 423.3,669.7 426,670.9C428.7,672.1 431.3,674.6 434,676.4C436.7,678.1 439.3,680.1 442,681.4C444.7,682.6 447.3,683.9 450,683.9C452.7,683.9 455.3,683.1 458,681.4C460.7,679.7 463.3,676.6 466,673.9C468.7,671.2 471.3,667.5 474,665C476.7,662.5 479.3,660.1 482,658.8C484.7,657.5 487.3,657.2 490,657C492.7,656.8 495.3,657.4 498,657.6C500.7,657.8 503.3,658.3 506,658.3C508.7,658.3 511.3,657.8 514,657.6C516.7,657.4 519.3,657.3 522,657C524.7,656.7 527.3,656.2 530,655.8C532.7,655.4 535.3,654.9 538,654.6C540.7,654.3 543.3,653.3 546,653.8C548.7,654.3 551.3,655.9 554,657.6C556.7,659.3 559.3,661.7 562,663.9C564.7,666.1 567.3,669.3 570,670.9C572.7,672.5 576.7,673.0 578,673.4" fill="none" stroke="#207c7c" stroke-width="1.05"/>
<path d="M10,658.8C11.1,656.6 15.9,644.8 18,642.6C20.1,640.4 23.9,642.3 26,642.6C28.1,642.9 31.9,643.0 34,645C36.1,647.0 39.9,654.6 42,657.6C44.1,660.6 47.9,664.3 50,667.6C52.1,670.9 55.9,682.0 58,682.7C60.1,683.4 63.9,673.7 66,672.6C68.1,671.5 71.9,675.9 74,674.6C76.1,673.3 79.9,664.5 82,662.6C84.1,660.7 87.9,660.3 90,660C92.1,659.7 95.9,659.7 98,660.6C100.1,661.5 103.9,663.8 106,666.4C108.1,669.0 111.9,678.3 114,680C116.1,681.7 119.9,679.2 122,679.4C124.1,679.6 127.9,682.1 130,681.4C132.1,680.7 135.9,675.0 138,673.9C140.1,672.8 143.9,674.6 146,673.4C148.1,672.2 151.9,666.0 154,665C156.1,664.0 159.9,665.9 162,665.9C164.1,665.9 167.9,663.5 170,665C172.1,666.5 175.9,675.7 178,677C180.1,678.3 183.9,675.9 186,675C188.1,674.1 191.9,671.8 194,670C196.1,668.2 199.9,663.2 202,661.4C204.1,659.6 207.9,658.2 210,656.3C212.1,654.4 215.9,648.3 218,647C220.1,645.7 223.9,645.7 226,646.3C228.1,646.9 231.9,650.6 234,651.3C236.1,652.0 239.9,652.9 242,651.8C244.1,650.7 247.9,645.7 250,643C252.1,640.3 255.9,632.7 258,631.3C260.1,629.9 263.9,632.5 266,632.5C268.1,632.5 271.9,630.8 274,631.3C276.1,631.8 279.9,635.5 282,636.3C284.1,637.1 287.9,636.0 290,637C292.1,638.0 295.9,642.9 298,643.8C300.1,644.7 303.9,644.0 306,643.8C308.1,643.6 311.9,642.8 314,642.6C316.1,642.4 319.9,643.0 322,642.6C324.1,642.2 327.9,639.6 330,639.5C332.1,639.4 335.9,640.1 338,642C340.1,643.9 343.9,650.2 346,653.8C348.1,657.4 351.9,666.2 354,668.9C356.1,671.6 359.9,673.1 362,673.9C364.1,674.7 367.9,674.5 370,675C372.1,675.5 375.9,676.7 378,677.6C380.1,678.5 383.9,681.6 386,681.4C388.1,681.2 391.9,678.3 394,676.4C396.1,674.5 399.9,668.7 402,667C404.1,665.3 407.9,663.9 410,663.9C412.1,663.9 415.9,664.9 418,667C420.1,669.1 423.9,677.5 426,680C428.1,682.5 431.9,684.7 434,685.7C436.1,686.7 439.9,687.9 442,687.7C444.1,687.5 447.9,686.1 450,683.9C452.1,681.7 455.9,675.1 458,671.4C460.1,667.7 463.9,658.7 466,656.3C468.1,653.9 471.9,653.7 474,653.3C476.1,652.9 479.9,652.4 482,653.3C484.1,654.2 487.9,659.3 490,660C492.1,660.7 495.9,658.7 498,658.3C500.1,657.9 503.9,657.2 506,657C508.1,656.8 511.9,657.3 514,657C516.1,656.7 519.9,655.3 522,655C524.1,654.7 527.9,655.3 530,654.6C532.1,653.9 535.9,649.6 538,650C540.1,650.4 543.9,654.9 546,657.6C548.1,660.3 551.9,667.2 554,670C556.1,672.8 559.9,678.0 562,678.9C564.1,679.8 567.9,677.9 570,676.4C572.1,674.9 576.9,668.8 578,667.6" fill="none" stroke="#f0941e" stroke-width="2.2" stroke-linejoin="round"/>
<polygon points="11,685.5 11,690 15,690" fill="#3c5050"/>
</g>
<text x="13.6" y="640" font-size="10" fill="#000" textLength="92" lengthAdjust="spacingAndGlyphs" stroke="#000" stroke-width="0.3" text-rendering="geometricPrecision" >Stoch(5,4,3) 40.0 29.0</text>
<g shape-rendering="crispEdges">
<rect x="583" y="643" width="4" height="1" fill="#000" />
<rect x="583" y="674" width="4" height="1" fill="#000" />
</g>
<text x="587.6" y="636" font-size="10" fill="#000" textLength="22.8" lengthAdjust="spacingAndGlyphs" stroke="#000" stroke-width="0.3" text-rendering="geometricPrecision" >100.0</text>
<text x="587.6" y="647" font-size="10" fill="#000" textLength="17.8" lengthAdjust="spacingAndGlyphs" stroke="#000" stroke-width="0.3" text-rendering="geometricPrecision" >75.0</text>
<text x="587.6" y="678" font-size="10" fill="#000" textLength="17.8" lengthAdjust="spacingAndGlyphs" stroke="#000" stroke-width="0.3" text-rendering="geometricPrecision" >25.0</text>
<text x="587.6" y="688" font-size="10" fill="#000" textLength="12.8" lengthAdjust="spacingAndGlyphs" stroke="#000" stroke-width="0.3" text-rendering="geometricPrecision" >0.0</text>
<g shape-rendering="crispEdges">
<rect x="10" y="691" width="1" height="4" fill="#000" />
<rect x="74" y="691" width="1" height="4" fill="#000" />
<rect x="138" y="691" width="1" height="4" fill="#000" />
<rect x="202" y="691" width="1" height="4" fill="#000" />
<rect x="266" y="691" width="1" height="4" fill="#000" />
<rect x="330" y="691" width="1" height="4" fill="#000" />
<rect x="394" y="691" width="1" height="4" fill="#000" />
<rect x="458" y="691" width="1" height="4" fill="#000" />
<rect x="522" y="691" width="1" height="4" fill="#000" />
</g>
<text x="10.4" y="703" font-size="10" fill="#000" textLength="53" lengthAdjust="spacingAndGlyphs" stroke="#000" stroke-width="0.3" text-rendering="geometricPrecision" >17 Nov 2021</text>
<text x="74.4" y="703" font-size="10" fill="#000" textLength="56.5" lengthAdjust="spacingAndGlyphs" stroke="#000" stroke-width="0.3" text-rendering="geometricPrecision" >17 Nov 12:59</text>
<text x="138.4" y="703" font-size="10" fill="#000" textLength="56.5" lengthAdjust="spacingAndGlyphs" stroke="#000" stroke-width="0.3" text-rendering="geometricPrecision" >17 Nov 13:07</text>
<text x="202.4" y="703" font-size="10" fill="#000" textLength="56.5" lengthAdjust="spacingAndGlyphs" stroke="#000" stroke-width="0.3" text-rendering="geometricPrecision" >17 Nov 13:15</text>
<text x="266.4" y="703" font-size="10" fill="#000" textLength="56.5" lengthAdjust="spacingAndGlyphs" stroke="#000" stroke-width="0.3" text-rendering="geometricPrecision" >17 Nov 13:23</text>
<text x="330.4" y="703" font-size="10" fill="#000" textLength="56.5" lengthAdjust="spacingAndGlyphs" stroke="#000" stroke-width="0.3" text-rendering="geometricPrecision" >17 Nov 13:31</text>
<text x="394.4" y="703" font-size="10" fill="#000" textLength="56.5" lengthAdjust="spacingAndGlyphs" stroke="#000" stroke-width="0.3" text-rendering="geometricPrecision" >17 Nov 13:39</text>
<text x="458.4" y="703" font-size="10" fill="#000" textLength="56.5" lengthAdjust="spacingAndGlyphs" stroke="#000" stroke-width="0.3" text-rendering="geometricPrecision" >17 Nov 13:47</text>
<text x="522.4" y="703" font-size="10" fill="#000" textLength="56.5" lengthAdjust="spacingAndGlyphs" stroke="#000" stroke-width="0.3" text-rendering="geometricPrecision" >17 Nov 13:55</text>
</svg>
</body></html>
